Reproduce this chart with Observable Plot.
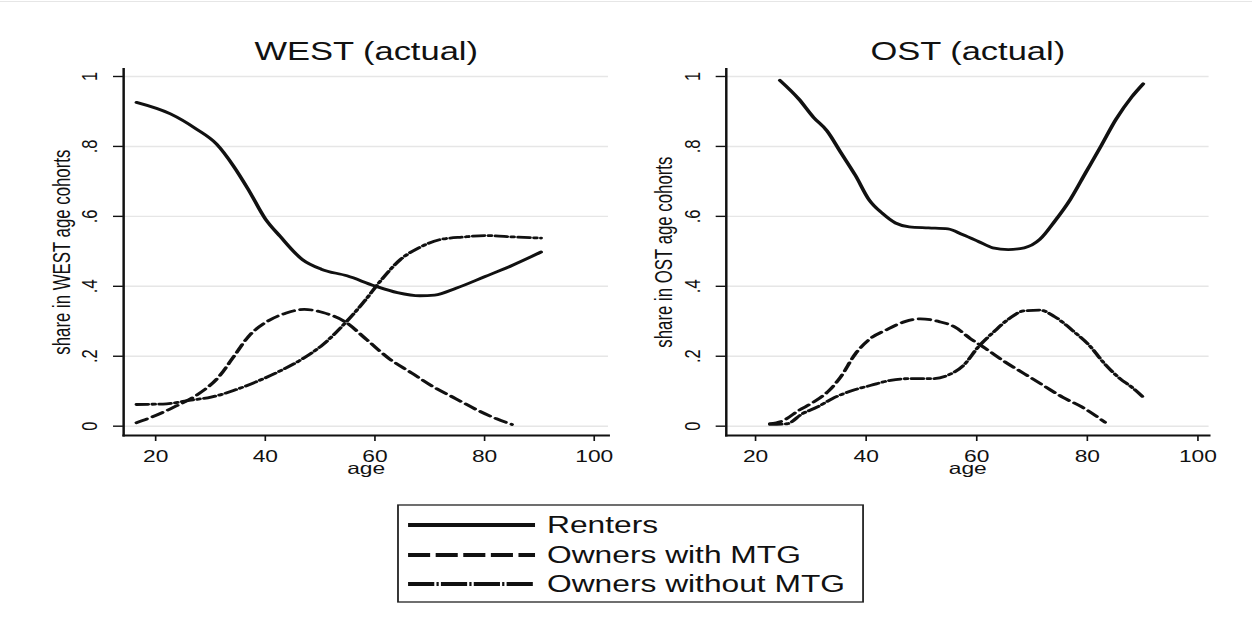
<!DOCTYPE html>
<html>
<head>
<meta charset="utf-8">
<script src="https://cdn.jsdelivr.net/npm/d3@7"></script>
<script src="https://cdn.jsdelivr.net/npm/@observablehq/plot@0.6"></script>
<style>
html, body { margin: 0; padding: 0; background: #fff; }
body { width: 1252px; height: 618px; overflow: hidden; position: relative; }
#topline { position: absolute; left: 0; top: 1px; width: 1252px; height: 1px; background: #e6e6e6; }
#stage { position: absolute; left: 0; top: 0; width: 907.2px; height: 618px; transform: scaleX(1.38); transform-origin: 0 0; font-family: "Liberation Sans", Arial, sans-serif; }
#stage > div { position: absolute; top: 0; }
</style>
</head>
<body>
<div id="topline"></div>
<div id="stage"><div id="west"></div><div id="ost"></div><div id="legend"></div></div>
<script>
// ---- data: [age, share] pairs ----
const westRenters = [[16.5,.926],[22.7,.893],[27.4,.85],[31.1,.807],[34.2,.744],[36.9,.677],[40,.593],[42.7,.543],[46.8,.476],[50.2,.449],[54.9,.43],[60,.401],[64.1,.382],[68.2,.373],[70.9,.375],[74.9,.395],[80.1,.428],[84.9,.459],[90.3,.498]];
const westWithMTG = [[16.5,.01],[19.3,.026],[23.4,.055],[27.4,.088],[31.5,.141],[34.2,.198],[36.9,.256],[40.3,.299],[43.7,.323],[47.1,.334],[50.5,.325],[54.5,.299],[58.6,.246],[62.6,.193],[66.7,.152],[70.7,.112],[74.7,.079],[78.8,.045],[82.2,.021],[85,.005]];
const westWithoutMTG = [[16.5,.062],[22,.064],[26.1,.074],[30.1,.083],[34.2,.102],[38.2,.126],[42.3,.155],[46.4,.189],[50.4,.232],[54.5,.294],[57.8,.352],[61.2,.419],[64.6,.476],[68,.51],[72,.534],[76.1,.541],[80.1,.545],[85.5,.541],[90.3,.538]];

const ostRenters = [[24.4,.989],[27.8,.936],[30.5,.883],[32.9,.845],[35.4,.783],[38.1,.716],[40.5,.648],[42.9,.609],[45.3,.581],[47.8,.57],[51.3,.567],[54.8,.564],[57.4,.548],[60.2,.529],[62.9,.51],[65.7,.505],[68.6,.51],[71.4,.534],[74.1,.586],[76.9,.648],[79.7,.725],[82.5,.802],[85.2,.878],[88,.941],[90.1,.979]];
const ostWithMTG = [[22.6,.007],[25,.016],[27.8,.045],[30.5,.069],[33.3,.102],[35.4,.141],[38.1,.208],[40.8,.251],[43.6,.275],[47,.299],[49.8,.307],[53.2,.299],[56,.284],[58.8,.251],[61.6,.222],[65.1,.184],[68.6,.15],[72,.117],[75.5,.083],[79,.055],[83.2,.011]];
const ostWithoutMTG = [[22.6,.005],[25.7,.007],[28.4,.035],[31.2,.055],[33.9,.079],[37.5,.102],[40.9,.117],[44.4,.131],[47.8,.136],[52,.136],[54.8,.146],[57.6,.174],[60.3,.227],[63.1,.27],[65.9,.308],[68.6,.33],[71.4,.332],[74.1,.313],[77.6,.27],[80.3,.232],[83.1,.179],[85.9,.136],[88,.112],[90.1,.083]];

const seriesNames = ["Renters", "Owners with MTG", "Owners without MTG"];
const xTicks = [20, 40, 60, 80, 100];
const yTicks = [0, 0.2, 0.4, 0.6, 0.8, 1];
const yTickLabels = ["0", ".2", ".4", ".6", ".8", "1"];
const panelTitles = ["WEST (actual)", "OST (actual)"];
const yLabels = ["share in WEST age cohorts", "share in OST age cohorts"];
const xLabel = "age";

// ---- styling ----
const FONT = '"Liberation Sans", Arial, sans-serif';
const INK = "#111";
const curveDash = [null, "8.5,4.5", "8.5,3,2,3"];
const legendDash = [null, "16,4", "19,1.6,1.6,1.6"];

function panel({title, ylabel, series, xDomain, width, marginLeft, marginRight}) {
  return Plot.plot({
    width, height: 480,
    marginLeft, marginRight, marginTop: 68.3, marginBottom: 45,
    style: {fontFamily: FONT, background: "transparent", color: INK, overflow: "visible"},
    x: {domain: xDomain},
    y: {domain: [-0.0266, 1.022]},
    marks: [
      Plot.gridY(yTicks, {stroke: "#e6e6e6", strokeOpacity: 1, strokeWidth: 1.4}),
      Plot.frame({anchor: "left", stroke: INK, strokeWidth: 1.8}),
      Plot.frame({anchor: "bottom", stroke: INK, strokeWidth: 1.8}),
      Plot.axisY({ticks: yTicks, tickFormat: d => yTickLabels[yTicks.indexOf(d)], tickRotate: -90,
        tickSize: 7.2, tickPadding: 12, fontSize: 16.5, strokeWidth: 1.4, label: null}),
      Plot.axisX({ticks: xTicks, tickSize: 6, tickPadding: 9, fontSize: 16.5, strokeWidth: 1.2, label: null}),
      ...series.map((s, i) => Plot.line(s, {x: d => d[0], y: d => d[1], curve: "monotone-x",
        stroke: INK, strokeWidth: 2.8, strokeDasharray: curveDash[i], strokeLinejoin: "round"})),
      Plot.text([title], {text: d => d, frameAnchor: "top", dy: -8.3, lineAnchor: "bottom", fontSize: 25}),
      Plot.text([ylabel], {text: d => d, frameAnchor: "left", textAnchor: "middle", rotate: -90, dx: -39, lineAnchor: "bottom", fontSize: 16.8}),
      Plot.text([xLabel], {text: d => d, frameAnchor: "bottom", dy: 39, lineAnchor: "bottom", fontSize: 16.5})
    ]
  });
}

const west = panel({title: panelTitles[0], ylabel: yLabels[0],
  series: [westRenters, westWithMTG, westWithoutMTG],
  xDomain: [14.16, 102.64], width: 453.6, marginLeft: 89.1, marginRight: 13});
document.getElementById("west").style.left = "0px";
document.getElementById("west").appendChild(west);

const ost = panel({title: panelTitles[1], ylabel: yLabels[1],
  series: [ostRenters, ostWithMTG, ostWithoutMTG],
  xDomain: [14.71, 102.05], width: 453.6, marginLeft: 71.8, marginRight: 31.8});
document.getElementById("ost").style.left = "453.6px";
document.getElementById("ost").appendChild(ost);

// ---- legend ----
const legendDiv = d3.select("#legend").style("left", "0px").style("top", "490px");
const lg = legendDiv.append("svg").attr("width", 907.2).attr("height", 128)
  .style("font-family", FONT);
lg.append("rect").attr("x", 288.4).attr("y", 15).attr("width", 337).attr("height", 97)
  .attr("fill", "none").attr("stroke", "#222").attr("stroke-width", 1.3);
const baselines = [43, 73, 102];
seriesNames.forEach((name, i) => {
  const b = baselines[i];
  lg.append("line").attr("x1", 295.7).attr("x2", 387.7).attr("y1", b - 8).attr("y2", b - 8)
    .attr("stroke", INK).attr("stroke-width", 4)
    .attr("stroke-dasharray", legendDash[i]);
  lg.append("text").attr("x", 396.4).attr("y", b).attr("font-size", 23).attr("fill", INK).text(name);
});
</script>
</body>
</html>
